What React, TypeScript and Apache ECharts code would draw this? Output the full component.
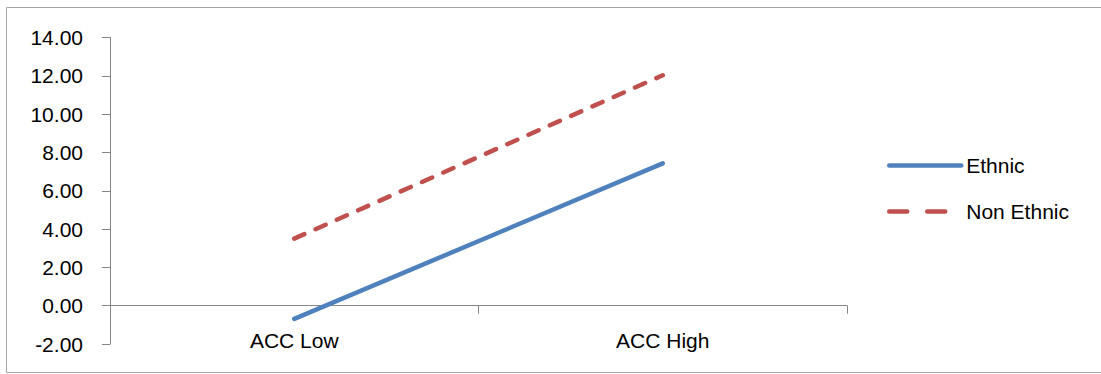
import React, { useEffect, useRef } from "react";
import * as echarts from "echarts";

const categories = ["ACC Low", "ACC High"];
const ethnic = [-0.69, 7.43];
const nonEthnic = [3.5, 12.03];
const seriesNames = ["Ethnic", "Non Ethnic"];

export default function App() {
  const ref = useRef<HTMLDivElement>(null);
  useEffect(() => {
    const chart = echarts.init(ref.current!, null, { renderer: "svg" });
    const font = "'Liberation Sans', Arial, sans-serif";
    chart.setOption({
      animation: false,
      textStyle: { fontFamily: font },
      graphic: [
        {
          type: "rect",
          shape: { x: 6.5, y: 7.5, width: 1100, height: 365 },
          style: { fill: "none", stroke: "#a6a6a6", lineWidth: 1 },
          silent: true,
        },
      ],
      grid: { left: 110, right: 254, top: 37.5, bottom: 30, outerBoundsMode: "none", containLabel: false },
      legend: {
        orient: "vertical",
        left: 882,
        top: 150,
        itemWidth: 72,
        itemHeight: 14,
        itemGap: 25,
        data: [
          { name: seriesNames[0] },
          { name: seriesNames[1], lineStyle: { type: [18, 20], width: 4.5, cap: "round" } },
        ],
        itemStyle: { opacity: 0 },
        lineStyle: { width: 4.5, cap: "round" },
        textStyle: { fontSize: 21, color: "#000", fontFamily: font },
      },
      xAxis: {
        type: "category",
        data: categories,
        boundaryGap: true,
        axisLine: { onZero: true, lineStyle: { color: "#868686", width: 1 } },
        axisTick: { show: true, length: 8, alignWithLabel: false, lineStyle: { color: "#868686" } },
        axisLabel: { fontSize: 21, color: "#000", margin: -14, fontFamily: font },
        splitLine: { show: false },
      },
      yAxis: {
        type: "value",
        min: -2,
        max: 14,
        interval: 2,
        axisLine: { show: true, onZero: false, lineStyle: { color: "#868686", width: 1 } },
        axisTick: { show: true, length: 8, lineStyle: { color: "#868686" } },
        axisLabel: {
          fontSize: 21,
          color: "#000",
          margin: 27,
          fontFamily: font,
          formatter: (v: number) => v.toFixed(2),
        },
        splitLine: { show: false },
      },
      series: [
        {
          name: seriesNames[0],
          type: "line",
          data: ethnic,
          symbol: "none",
          lineStyle: { color: "#4F81BD", width: 4.5, cap: "round" },
          itemStyle: { color: "#4F81BD" },
        },
        {
          name: seriesNames[1],
          type: "line",
          data: nonEthnic,
          symbol: "none",
          lineStyle: { color: "#C0504D", width: 4.5, type: [11, 12.3], cap: "round" },
          itemStyle: { color: "#C0504D" },
        },
      ],
    });
    return () => chart.dispose();
  }, []);
  return (
    <div
      ref={ref}
      style={{ position: "absolute", left: 0, top: 0, width: 1101, height: 374, background: "#fff" }}
    />
  );
}
